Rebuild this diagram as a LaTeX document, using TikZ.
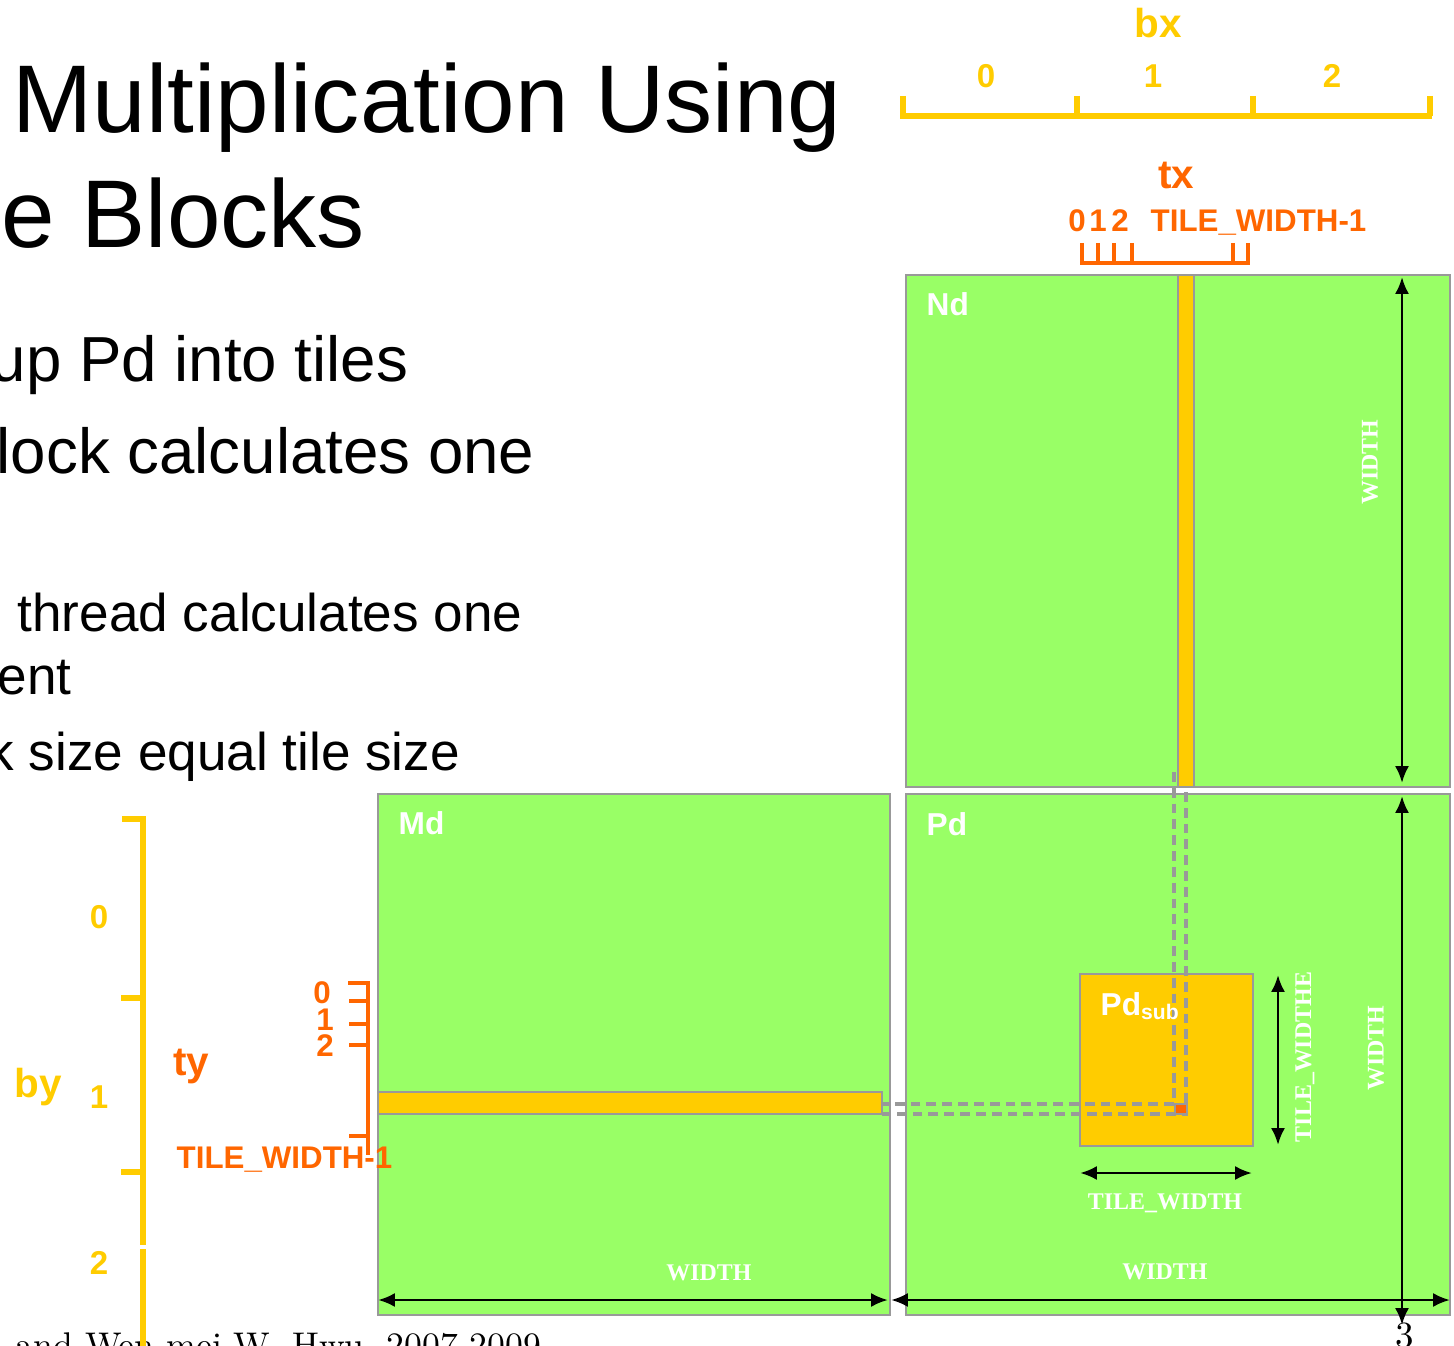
\documentclass[tikz,border=0pt]{standalone}
\usepackage{fontspec}
\newfontfamily\sansf{Liberation Sans}
\newfontfamily\serifb{Liberation Serif}
\usetikzlibrary{arrows.meta}

\begin{document}
\begin{tikzpicture}[x=0.01cm,y=-0.01cm,>={Latex[length=4.8pt,width=4pt]}]

\definecolor{matgreen}{HTML}{99FF66}
\definecolor{tileyel}{HTML}{FFCC00}
\definecolor{thrdorg}{HTML}{FF6600}
\definecolor{edgegray}{HTML}{999999}

\tikzset{
  mat/.style={fill=matgreen,draw=edgegray,line width=0.8pt},
  strip/.style={fill=tileyel,draw=edgegray,line width=0.8pt},
  dimline/.style={<->,line width=0.8pt},
  dimtxt/.style={text=white,inner sep=0pt,font=\serifb\bfseries\fontsize{6.8}{8}\selectfont},
  matname/.style={text=white,anchor=base west,inner sep=0pt,font=\sansf\bfseries\fontsize{9}{10}\selectfont},
  slidetxt/.style={anchor=base west,inner sep=0pt,font=\sansf\fontsize{18.1}{20}\selectfont},
  subtxt/.style={slidetxt,font=\sansf\fontsize{15.1}{17}\selectfont},
  titletxt/.style={slidetxt,font=\sansf\fontsize{27.35}{30}\selectfont},
  blkax/.style={draw=tileyel,line width=1.6pt},
  thrax/.style={draw=thrdorg,line width=1.4pt},
  blktxt/.style={text=tileyel,inner sep=0pt,font=\sansf\bfseries\fontsize{9.4}{10}\selectfont},
  thrtxt/.style={text=thrdorg,inner sep=0pt,font=\sansf\bfseries\fontsize{8.9}{10}\selectfont},
  axname/.style={font=\sansf\bfseries\fontsize{11.5}{12}\selectfont},
  gridpath/.style={draw=edgegray,dash pattern=on 2.8pt off 1.7pt,line width=0.9pt}
}

\useasboundingbox (0,0) rectangle (1454,1346);
\clip (0,0) rectangle (1454,1346);

% slide text
\node[titletxt] (title1) at (12,133) {Multiplication Using};
\node[titletxt] (title2) at (1,248) {e Blocks};
\node[slidetxt] (item1) at (-10,382) {up Pd into tiles};
\node[slidetxt] (item2) at (-4,474) {lock calculates one};
\node[subtxt] (item3) at (17,632) {thread calculates one};
\node[subtxt] (item4) at (-3,695) {ent};
\node[subtxt] (item5) at (-13,771) {k size equal tile size};
\node[anchor=base west,inner sep=0pt,font=\fontsize{10.15}{12}\selectfont] (footer) at (15,1357) {and Wen-mei W. Hwu, 2007-2009};
\node[anchor=base,inner sep=0pt,font=\fontsize{10.5}{12}\selectfont] (pageno) at (1405,1347) {3};

% matrices
\draw[mat] (906,275) rectangle (1450,787);
\draw[mat] (378,794) rectangle (890,1315);
\draw[mat] (906,794) rectangle (1450,1315);
\draw[strip] (1178,275) rectangle (1194,787);
\draw[strip] (378,1092) rectangle (882,1114);
\draw[strip] (1080,974) rectangle (1253,1146);

\draw[gridpath] (1174,772) -- (1174,1104) -- (882,1104);
\draw[gridpath] (1186,792) -- (1186,1114) -- (882,1114);
\draw[fill=thrdorg,draw=edgegray,line width=0.8pt] (1175,1104) rectangle (1187,1114);

\node[matname] (ndname) at (926,316) {Nd};
\node[matname] (mdname) at (398,834) {Md};
\node[matname] (pdname) at (926,835) {Pd};
\node[matname] (pdsub) at (1100,1015) {Pd\textsubscript{sub}};

% dimensions
\coordinate (ndtop) at (1402,277);
\coordinate (ndbot) at (1402,783);
\coordinate (pdtop) at (1402,796);
\coordinate (pdbot) at (1402,1325);
\coordinate (mdleft) at (378,1300);
\coordinate (mdright) at (888,1300);
\coordinate (pdleft) at (891,1300);
\coordinate (pdright) at (1450,1300);
\coordinate (subleft) at (1080,1173);
\coordinate (subright) at (1252,1173);
\coordinate (subtop) at (1278,975);
\coordinate (subbot) at (1278,1145);

\draw[dimline] (ndtop) -- (ndbot);
\draw[dimline] (pdtop) -- (pdbot);
\draw[dimline] (mdleft) -- (mdright);
\draw[dimline] (pdleft) -- (pdright);
\draw[dimline] (subleft) -- (subright);
\draw[dimline] (subtop) -- (subbot);

\node[dimtxt,rotate=90] (ndwidth) at (1370,462) {WIDTH};
\node[dimtxt,rotate=90] (pdwidthv) at (1376,1048) {WIDTH};
\node[dimtxt,rotate=90] (subwidthv) at (1305,1057) {TILE\_WIDTHE};
\node[dimtxt] (mdwidth) at (709,1273) {WIDTH};
\node[dimtxt] (pdwidthh) at (1165,1272) {WIDTH};
\node[dimtxt] (subwidthh) at (1165,1203) {TILE\_WIDTH};

% block and thread indices
\draw[blkax] (900,116) -- (1432,116);
\foreach \x in {903,1077,1253,1430}{
  \draw[blkax] (\x,96) -- (\x,116);
}
\node[blktxt,axname] (bxname) at (1158,23) {bx};
\node[blktxt] (bx0) at (986,76) {0};
\node[blktxt] (bx1) at (1153,76) {1};
\node[blktxt] (bx2) at (1332,76) {2};

\draw[thrax] (1080,263) -- (1250,263);
\foreach \x in {1082,1098,1114,1132,1233,1248}{
  \draw[thrax] (\x,243) -- (\x,263);
}
\node[thrtxt,axname] (txname) at (1176,175) {tx};
\node[thrtxt,anchor=base] (tx0) at (1077,232) {0};
\node[thrtxt,anchor=base] (tx1) at (1098,232) {1};
\node[thrtxt,anchor=base] (tx2) at (1120,232) {2};
\node[thrtxt,anchor=base west] (txlast) at (1150,232) {TILE\_WIDTH-1};

\draw[blkax] (122,819) -- (143,819) -- (143,1245);
\draw[blkax] (143,1249) -- (143,1346);
\foreach \y in {998,1172}{
  \draw[blkax] (121,\y) -- (143,\y);
}
\node[blktxt,axname] (byname) at (38,1087) {by};
\node[blktxt] (by0) at (99,917) {0};
\node[blktxt] (by1) at (99,1097) {1};
\node[blktxt] (by2) at (99,1263) {2};

\draw[thrax] (348,983) -- (368,983) -- (368,1155);
\foreach \y in {1001,1024,1045,1136}{
  \draw[thrax] (349,\y) -- (368,\y);
}
\node[thrtxt,axname] (tyname) at (191,1067) {ty};
\node[thrtxt] (ty0) at (322,993) {0};
\node[thrtxt] (ty1) at (325,1020) {1};
\node[thrtxt] (ty2) at (325,1046) {2};
\node[thrtxt,anchor=base west] (tylast) at (176,1168) {TILE\_WIDTH-1};

\end{tikzpicture}
\end{document}
